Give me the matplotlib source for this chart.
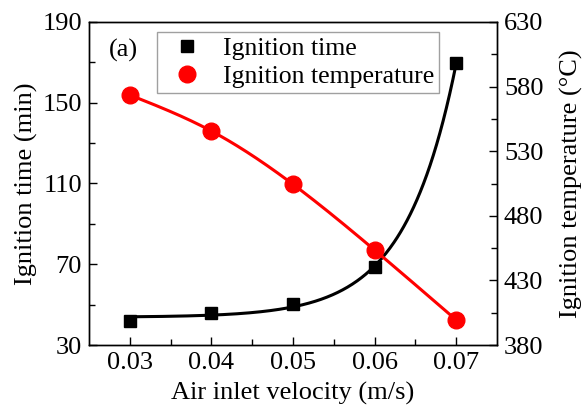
import numpy as np
import matplotlib
matplotlib.use("Agg")
import matplotlib.pyplot as plt
from matplotlib.ticker import FixedLocator, FormatStrFormatter

plt.rcParams["font.family"] = ["Liberation Serif", "DejaVu Serif"]

# Measured data
velocity = [0.03, 0.04, 0.05, 0.06, 0.07]          # m/s
ignition_time = [42.0, 46.0, 50.2, 68.5, 169.5]     # min
ignition_temp = [573.5, 545.6, 504.4, 453.5, 399.4]  # °C

x_ticks = [0.03, 0.04, 0.05, 0.06, 0.07]
time_ticks = [30, 70, 110, 150, 190]
temp_ticks = [380, 430, 480, 530, 580, 630]

x = np.array(velocity)
t = np.array(ignition_time)
T = np.array(ignition_temp)
xs = np.linspace(x.min(), x.max(), 400)

# Exponential fit y = a + b*exp(c*x) for ignition time (grid over c, linear LS for a, b)
best = None
for c in np.linspace(10, 400, 4000):
    A = np.column_stack([np.ones_like(x), np.exp(c * x)])
    coef, *_ = np.linalg.lstsq(A, t, rcond=None)
    err = np.sum((A @ coef - t) ** 2)
    if best is None or err < best[0]:
        best = (err, c, coef)
_, c_fit, (a_fit, b_fit) = best
t_fit = a_fit + b_fit * np.exp(c_fit * xs)


def natural_spline(xk, yk, xe):
    n = len(xk)
    h = np.diff(xk)
    M = np.zeros((n, n))
    r = np.zeros(n)
    M[0, 0] = M[-1, -1] = 1.0
    for i in range(1, n - 1):
        M[i, i - 1] = h[i - 1]
        M[i, i] = 2 * (h[i - 1] + h[i])
        M[i, i + 1] = h[i]
        r[i] = 6 * ((yk[i + 1] - yk[i]) / h[i] - (yk[i] - yk[i - 1]) / h[i - 1])
    m = np.linalg.solve(M, r)
    idx = np.clip(np.searchsorted(xk, xe) - 1, 0, n - 2)
    x0, x1 = xk[idx], xk[idx + 1]
    hh = x1 - x0
    a = (x1 - xe) / hh
    b = (xe - x0) / hh
    return (a * yk[idx] + b * yk[idx + 1]
            + ((a ** 3 - a) * m[idx] + (b ** 3 - b) * m[idx + 1]) * hh ** 2 / 6)


T_fit = natural_spline(x, T, xs)

fig = plt.figure(figsize=(5.84, 4.16), dpi=100)
ax = fig.add_axes([89 / 584, 1 - 345 / 416, (497 - 89) / 584, (345 - 22) / 416])
ax2 = ax.twinx()

fs = 19
ax.plot(xs, t_fit, color="black", lw=2.2, zorder=2)
h1, = ax.plot(x, t, "s", color="black", ms=8.5, zorder=3)
ax2.plot(xs, T_fit, color="red", lw=2.2, zorder=2)
h2, = ax2.plot(x, T, "o", color="red", ms=12, zorder=3)

ax.set_xlim(0.025, 0.075)
ax.set_ylim(30, 190)
ax2.set_ylim(380, 630)
ax.xaxis.set_major_locator(FixedLocator(x_ticks))
ax.xaxis.set_minor_locator(FixedLocator(list(np.array(x_ticks[:-1]) + 0.005)))
ax.xaxis.set_major_formatter(FormatStrFormatter("%.2f"))
ax.yaxis.set_major_locator(FixedLocator(time_ticks))
ax.yaxis.set_minor_locator(FixedLocator(list(np.array(time_ticks[:-1]) + 20)))
ax2.yaxis.set_major_locator(FixedLocator(temp_ticks))
ax2.yaxis.set_minor_locator(FixedLocator(list(np.array(temp_ticks[:-1]) + 25)))

for a in (ax, ax2):
    a.tick_params(which="major", direction="in", length=6, width=1, labelsize=fs, pad=5)
    a.tick_params(which="minor", direction="in", length=4, width=1)
    for s in a.spines.values():
        s.set_linewidth(1.0)
ax.tick_params(axis="both", which="both", top=False, right=False)
ax2.tick_params(axis="y", which="both", left=False, right=True)

ax.set_xlabel("Air inlet velocity (m/s)", fontsize=fs, labelpad=6)
ax.set_ylabel("Ignition time (min)", fontsize=fs, labelpad=3)
ax2.set_ylabel("Ignition temperature (°C)", fontsize=fs, labelpad=12)

ax.text(0.0292, 176, "(a)", fontsize=fs, ha="center", va="center")

leg = ax.legend([h1, h2], ["Ignition time", "Ignition temperature"],
                loc="upper left", bbox_to_anchor=((157 - 89) / 408, 1 - (32 - 22) / 323),
                prop={"size": 18.5}, frameon=True, fancybox=False, edgecolor="#888888",
                borderpad=0.2, handletextpad=0.45, labelspacing=0.2, handlelength=1.9,
                borderaxespad=0)
leg.get_frame().set_linewidth(1.0)
leg.set_zorder(5)

fig.savefig("out.png", dpi=100)
